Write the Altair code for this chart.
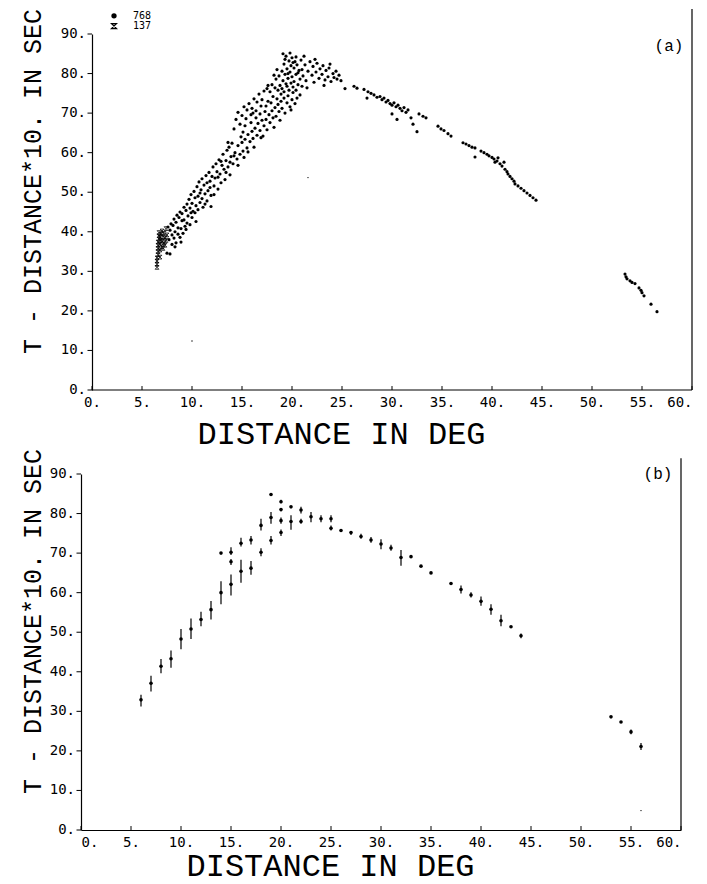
import altair as alt
import pandas as pd

# ---------------- Panel (a): individual readings ----------------
# set "768" (filled dots)
A768_DIST = [7.5, 7.6, 7.7, 7.8, 7.8, 7.9, 8.0, 8.0, 8.1, 8.2, 8.2, 8.3, 8.4, 8.4, 8.5, 8.6, 8.6, 8.7, 8.8, 8.8,
             8.9, 9.0, 9.0, 9.1, 9.2, 9.2, 9.3, 9.4, 9.5, 9.5,
             9.6, 9.7, 9.8, 9.8, 9.9, 10.0, 10.0, 10.1, 10.2, 10.3, 10.3, 10.4, 10.5, 10.6, 10.6, 10.7, 10.8, 10.9,
             11.0, 11.0, 11.1, 11.2, 11.3, 11.4, 11.5, 11.5,
             11.6, 11.7, 11.8, 11.9, 12.0, 12.1, 12.2, 12.3, 12.4, 12.5, 12.6, 12.7, 12.8, 12.9, 13.0, 13.1, 13.2,
             13.3, 13.4, 13.5, 13.6, 13.7, 13.8, 13.9, 14.0,
             14.1, 14.3, 14.5, 14.6, 14.8, 15.0, 15.1, 15.3, 15.5, 15.6, 15.8, 16.0, 16.1, 16.3, 16.5, 16.6, 16.8,
             17.0, 16.9, 15.2,
             14.2, 14.4, 14.6, 14.8, 15.0, 15.2, 15.4, 15.5, 15.7, 15.9, 16.0, 16.2, 16.4, 16.5, 16.7, 16.9, 17.0,
             17.2, 17.3, 17.5,
             17.2, 17.4, 17.5, 17.7, 17.8, 18.0, 18.1, 18.3, 18.4, 18.6, 18.7, 18.9, 19.0, 19.2, 19.3, 19.5, 19.6,
             19.8, 20.0, 20.1, 20.3,
             17.6, 17.8, 18.0, 18.1, 18.3, 18.4, 18.5, 18.6, 18.7, 18.8, 18.9, 19.0, 19.0, 19.1, 19.2, 19.2, 19.3,
             19.4, 19.4, 19.5, 19.5, 19.6, 19.7, 19.7, 19.8, 19.9, 19.9, 20.0, 20.0, 20.1, 20.2, 20.2, 20.3, 20.4,
             20.4, 20.5, 20.6, 20.7, 20.8, 20.9, 21.0, 21.0, 21.1,
             21.3, 21.4, 21.6, 21.8, 22.0, 22.1, 22.2, 22.4, 22.5, 22.7, 22.8, 23.0, 23.1, 23.3, 23.4, 23.6, 23.7,
             23.9, 24.1, 24.4, 24.5, 24.7, 24.9,
             25.3, 26.2, 26.5, 27.2, 27.5, 27.6, 27.9, 28.2, 28.5, 28.8, 29.0, 29.2, 29.4, 29.6, 29.8, 30.0, 30.0,
             30.2, 30.4, 30.5, 30.6, 30.8, 31.0, 31.2, 31.4, 31.6, 31.9, 32.1, 32.5, 32.7, 33.1, 33.4,
             34.6, 34.9, 35.2, 35.6, 35.9, 37.1, 37.4, 37.7, 38.0, 38.3, 38.3, 38.9, 39.2, 39.5, 39.7, 40.0, 40.2,
             40.3, 40.5, 40.6, 40.8, 41.0, 41.2, 41.3, 41.5, 41.6, 41.8, 42.0, 42.2, 42.3, 42.6, 42.9, 43.2, 43.5,
             43.8, 44.1, 44.4,
             53.3, 53.4, 53.5, 53.8, 54.0, 54.3, 54.7, 54.9, 55.0, 55.2, 55.9, 56.5,
             8.3, 8.9, 9.4, 9.9, 10.4, 10.8, 11.3, 11.8, 12.2, 12.6, 12.9, 13.4, 13.8, 14.2, 14.6, 15.1, 15.6, 15.9,
             16.2, 16.4, 16.8, 17.1, 17.4, 17.6, 17.9, 18.2, 18.2, 18.5, 18.8, 19.1, 19.3, 19.6, 19.8, 20.1, 20.4,
             20.6, 20.8, 21.2, 21.5, 22.3, 23.2, 23.8, 24.2, 20.5, 19.9, 16.1, 15.3, 14.9, 13.6, 11.9]
A768_TIME = [34.6, 41.2, 38.0, 34.4, 40.4, 42.0, 36.8, 39.2, 41.6, 38.4, 43.2, 40.0, 37.2, 42.4, 44.2, 39.4, 41.0,
             43.6, 38.6, 45.0, 40.8, 42.8, 44.6, 39.6, 46.2, 43.0, 41.4, 45.4, 47.0, 42.2,
             44.0, 48.2, 41.8, 46.0, 49.4, 43.6, 47.2, 45.2, 50.2, 44.8, 48.6, 46.6, 51.4, 49.0, 45.6, 52.6, 47.4,
             50.6, 48.4, 53.4, 46.2, 51.8, 49.6, 54.2, 52.4, 47.8,
             50.4, 55.0, 52.8, 49.2, 54.0, 56.4, 51.6, 53.6, 57.2, 55.2, 50.8, 58.2, 54.6, 52.4, 56.8, 59.6, 55.8,
             53.2, 58.0, 60.6, 56.4, 61.4, 57.6, 59.0, 62.4,
             57.2, 60.0, 58.4, 61.8, 59.6, 62.6, 60.4, 63.4, 61.2, 64.6, 62.8, 65.4, 63.6, 66.2, 64.4, 67.4, 65.6,
             68.2, 63.8, 58.8,
             66.0, 68.4, 70.2, 67.2, 69.4, 71.6, 68.6, 70.8, 72.4, 69.6, 71.2, 73.6, 70.6, 72.8, 74.8, 71.8, 73.4,
             75.6, 70.4, 76.2,
             66.8, 68.4, 65.8, 69.6, 67.6, 70.6, 68.8, 71.4, 69.2, 72.2, 70.4, 73.0, 71.2, 73.8, 70.0, 72.6, 74.4,
             71.6, 73.4, 75.2, 72.4,
             73.0, 75.4, 77.2, 74.2, 76.4, 78.6, 73.6, 75.8, 79.4, 77.0, 74.8, 80.6, 76.2, 78.2, 82.4, 75.4, 79.8,
             77.4, 84.4, 81.2, 76.8, 78.8, 83.2, 75.8, 80.4, 77.6, 82.0, 79.2, 84.0, 76.6, 81.4, 78.0, 83.0, 79.8,
             75.8, 82.2, 77.2, 80.8, 78.6, 83.4, 76.8, 81.0, 79.4,
             82.2, 78.2, 80.6, 83.0, 79.6, 81.8, 77.8, 80.4, 82.6, 78.8, 81.2, 79.8, 82.0, 78.4, 80.8, 79.2, 81.4,
             78.0, 80.0, 80.6, 78.6, 79.6, 78.2,
             76.2, 76.8, 76.3, 76.0, 73.8, 75.4, 75.0, 74.6, 74.0, 74.2, 73.4, 73.8, 72.8, 73.2, 72.4, 72.0, 69.8,
             72.6, 71.6, 68.4, 72.0, 71.2, 70.6, 71.4, 70.2, 70.8, 68.8, 67.2, 65.3, 69.8, 69.2, 68.8,
             66.7, 66.0, 65.6, 64.8, 64.2, 62.5, 62.2, 61.8, 61.4, 58.9, 61.2, 60.4, 60.0, 59.6, 59.2, 58.8, 58.4,
             57.6, 57.9, 58.7, 57.2, 56.6, 57.6, 55.8, 55.2, 54.6, 54.0, 53.4, 52.8, 52.1, 51.6, 51.0, 50.4, 49.8,
             49.2, 48.6, 48.0,
             29.3, 28.6, 28.1, 27.6, 27.2, 26.9, 25.8, 25.2, 24.6, 23.8, 21.7, 19.8,
             36.2, 37.4, 40.6, 44.8, 42.6, 49.8, 47.0, 51.2, 49.4, 53.8, 57.8, 55.0, 54.4, 59.2, 56.8, 65.2, 60.2,
             67.6, 61.4, 68.8, 69.8, 64.2, 71.8, 77.0, 72.6, 66.4, 79.6, 81.0, 68.2, 85.0, 83.6, 80.0, 85.2, 82.8,
             84.2, 80.2, 74.6, 84.4, 76.4, 83.6, 77.0, 82.4, 79.0, 73.8, 70.8, 70.0, 66.8, 64.0, 62.6, 46.4]

# set "137" (hourglass symbols, the dense group near 6.5-7.5 deg)
A137_DIST = [6.5, 6.5, 6.5, 6.5, 6.6, 6.6, 6.6, 6.6, 6.6, 6.7, 6.7, 6.7, 6.8, 6.8, 6.8, 6.8, 6.9, 6.9, 7.0, 7.0,
             7.0, 7.1, 7.1, 7.2, 7.2, 7.3, 7.3, 7.4, 7.4, 7.5]
A137_TIME = [31.0, 31.8, 32.6, 33.4, 34.2, 35.0, 35.8, 36.6, 37.4, 38.2, 39.0, 39.8, 33.6, 35.4, 36.9, 38.6, 37.8,
             39.4, 36.2, 37.6, 40.2, 35.8, 38.8, 37.2, 39.6, 36.6, 38.4, 40.8, 37.8, 39.2]

SPECK_A_DIST = [21.6, 10.0]
SPECK_A_TIME = [53.7, 12.4]

LEGEND_COUNTS = ["768", "137"]

# ---------------- Panel (b): binned values with spread ----------------
B_DIST = [6, 7, 8, 9, 10, 11, 12, 13, 14, 14, 15, 15, 15, 16, 16, 17, 17, 18, 18, 19, 19, 19,
          20, 20, 20, 20, 21, 21, 22, 22, 23, 24, 25, 25, 26, 27, 28, 29, 30, 31, 32, 33, 34, 35,
          37, 38, 39, 40, 41, 42, 43, 44, 53, 54, 55, 56]
B_MID = [32.9, 37.1, 41.4, 43.3, 48.3, 50.8, 53.2, 55.7, 60.0, 70.0, 62.1, 70.2, 67.8, 65.4, 72.5, 66.2, 73.3,
         70.2, 77.0, 73.2, 79.0, 84.8, 75.2, 78.2, 81.0, 83.0, 81.7, 78.0, 80.9, 78.0, 79.2, 78.7, 78.7, 76.3,
         75.7, 75.2, 74.2, 73.3, 72.3, 71.3, 68.9, 69.1, 66.7, 65.0, 62.3, 60.8, 59.4, 57.8, 55.8, 52.9, 51.4,
         49.1, 28.6, 27.3, 24.8, 21.1]
B_LO = [31.2, 35.0, 39.6, 41.0, 45.7, 48.3, 51.5, 53.2, 57.1, 70.0, 59.3, 69.5, 67.0, 62.5, 71.7, 64.5, 72.2,
        69.2, 75.7, 72.2, 77.4, 84.8, 74.3, 77.4, 80.6, 82.6, 81.7, 75.9, 80.0, 77.4, 77.8, 77.8, 77.8, 75.7,
        75.4, 74.6, 73.6, 72.6, 71.0, 70.6, 66.8, 69.1, 66.7, 65.0, 62.3, 59.8, 58.8, 56.7, 54.4, 51.5, 51.4,
        48.5, 28.6, 27.3, 24.2, 20.2]
B_HI = [34.2, 39.0, 43.2, 45.4, 50.8, 53.5, 55.2, 57.9, 62.9, 70.0, 64.6, 71.5, 68.5, 68.3, 73.9, 68.0, 74.3,
        71.2, 78.7, 74.3, 80.4, 84.8, 76.0, 79.0, 81.4, 83.5, 81.7, 79.6, 81.7, 78.7, 80.4, 79.6, 79.6, 77.0,
        76.0, 75.6, 74.9, 74.1, 73.5, 72.1, 70.8, 69.1, 66.7, 65.0, 62.3, 61.8, 60.1, 59.0, 57.1, 54.4, 51.4,
        49.7, 28.6, 27.3, 25.4, 22.0]

SPECK_B_DIST = [56.0]
SPECK_B_TIME = [4.9]

X_TICKS = list(range(0, 61, 5))
Y_TICKS = list(range(0, 91, 10))
Y_LABELS = [f"{v}." for v in Y_TICKS]
PANEL_TAGS = ["(a)", "(b)"]

# ---------------- styling ----------------
FONT = "DejaVu Sans Mono"
TFONT = "Liberation Mono"
H = 356
WA, WB = 611, 600
XT_TITLE = "DISTANCE IN DEG"
YT_TITLE = "T - DISTANCE*10. IN SEC"
HOURGLASS = "M -1 -1 L 1 -1 L -1 1 L 1 1 Z"

xs_a = alt.Scale(domain=[-1.1, 60], nice=False, zero=False)
xs_b = alt.Scale(domain=[0, 60], nice=False, zero=False)
ys = alt.Scale(domain=[0, 90], nice=False, zero=False)


def x_axis(title_x, title_y, domain):
    return alt.Axis(values=X_TICKS, labelExpr="datum.value + '.'", title=XT_TITLE, ticks=False,
                    domain=domain, labelPadding=5, titleX=title_x, titleY=title_y, titleAlign="center",
                    titleBaseline="alphabetic", titleFontSize=32, grid=False, labelOverlap=False)


def y_axis(offset, title_x):
    return alt.Axis(values=Y_TICKS, labels=False, ticks=False, title=YT_TITLE,
                    offset=offset, titleX=title_x, titleY=147, titleAngle=270,
                    titleAlign="center", titleBaseline="middle", titleFontSize=25, grid=False)


df768 = pd.DataFrame({"d": A768_DIST, "t": A768_TIME})
df137 = pd.DataFrame({"d": A137_DIST, "t": A137_TIME})
dfsa = pd.DataFrame({"d": SPECK_A_DIST, "t": SPECK_A_TIME})
dft = pd.DataFrame({"d": X_TICKS})
dfy = pd.DataFrame({"t": Y_TICKS, "lab": Y_LABELS})
dfb = pd.DataFrame({"d": B_DIST, "t": B_MID, "lo": B_LO, "hi": B_HI})
dfsb = pd.DataFrame({"d": SPECK_B_DIST, "t": SPECK_B_TIME})
one = pd.DataFrame({"k": [0]})


def y_ticks_layers(xs):
    ticks = alt.Chart(dfy).mark_rule(color="black", strokeWidth=1).encode(
        x=alt.datum(-0.45, scale=xs), x2=alt.datum(0), y=alt.Y("t:Q", scale=ys))
    labels = alt.Chart(dfy).mark_text(font=FONT, fontSize=14, color="black", align="right",
                                      baseline="middle", dx=-6).encode(
        x=alt.datum(0, scale=xs), y=alt.Y("t:Q", scale=ys), text="lab:N")
    return ticks, labels


# ---- panel a layers
a_pts = alt.Chart(df768).mark_point(filled=True, shape="circle", size=10, color="black", opacity=1).encode(
    x=alt.X("d:Q", scale=xs_a, axis=x_axis(260, 53, False)),
    y=alt.Y("t:Q", scale=ys, axis=y_axis(-11, -60)),
)
a_137 = alt.Chart(df137).mark_point(shape=HOURGLASS, size=14, color="black", filled=False,
                                   strokeWidth=0.8, opacity=1).encode(
    x=alt.X("d:Q", scale=xs_a), y=alt.Y("t:Q", scale=ys))
a_speck = alt.Chart(dfsa).mark_point(filled=True, shape="circle", size=2, color="black", opacity=1).encode(
    x=alt.X("d:Q", scale=xs_a), y=alt.Y("t:Q", scale=ys))
a_xline = alt.Chart(one).mark_rule(color="black", strokeWidth=1.2).encode(
    x=alt.datum(0, scale=xs_a), x2=alt.datum(60), y=alt.datum(0, scale=ys))
a_right = alt.Chart(one).mark_rule(color="black", strokeWidth=1.2).encode(
    x=alt.datum(60, scale=xs_a), y=alt.datum(0, scale=ys), y2=alt.datum(96.3))
a_ticks = alt.Chart(dft).mark_rule(color="black", strokeWidth=1).encode(
    x=alt.X("d:Q", scale=xs_a), y=alt.datum(0, scale=ys), y2=alt.datum(1.0))
a_yt, a_yl = y_ticks_layers(xs_a)
a_tag = alt.Chart(one).mark_text(font=TFONT, fontSize=16, color="black").encode(
    x=alt.datum(57.7, scale=xs_a), y=alt.datum(87, scale=ys), text=alt.value(PANEL_TAGS[0]))
a_leg1 = alt.Chart(one).mark_point(filled=True, shape="circle", size=28, color="black", opacity=1).encode(
    x=alt.datum(2.2, scale=xs_a), y=alt.datum(94.6, scale=ys))
a_leg2 = alt.Chart(one).mark_point(shape=HOURGLASS, size=26, color="black", filled=False, strokeWidth=1.2,
                                   opacity=1).encode(x=alt.datum(2.2, scale=xs_a), y=alt.datum(92.0, scale=ys))
a_legt1 = alt.Chart(one).mark_text(font=FONT, fontSize=10, color="black", align="left").encode(
    x=alt.datum(4.1, scale=xs_a), y=alt.datum(94.6, scale=ys), text=alt.value(LEGEND_COUNTS[0]))
a_legt2 = alt.Chart(one).mark_text(font=FONT, fontSize=10, color="black", align="left").encode(
    x=alt.datum(4.1, scale=xs_a), y=alt.datum(92.0, scale=ys), text=alt.value(LEGEND_COUNTS[1]))
# white pixel pinning the page's top-left corner (layout anchor)
a_anchor = alt.Chart(one).mark_rule(color="white", strokeWidth=1).encode(
    x=alt.value(-80), x2=alt.value(-79), y=alt.value(-33))

panel_a = alt.layer(a_pts, a_137, a_speck, a_xline, a_right, a_ticks, a_yt, a_yl, a_tag, a_leg1, a_leg2,
                    a_legt1, a_legt2, a_anchor).properties(width=WA, height=H)

# ---- panel b layers
b_pts = alt.Chart(dfb).mark_point(filled=True, shape="circle", size=13, color="black", opacity=1).encode(
    x=alt.X("d:Q", scale=xs_b, axis=x_axis(249, 45, True)),
    y=alt.Y("t:Q", scale=ys, axis=y_axis(0, -49)),
)
b_bars = alt.Chart(dfb).mark_rule(color="black", strokeWidth=1.2).encode(
    x=alt.X("d:Q", scale=xs_b), y=alt.Y("lo:Q", scale=ys), y2="hi:Q")
b_speck = alt.Chart(dfsb).mark_point(filled=True, shape="circle", size=2, color="black", opacity=1).encode(
    x=alt.X("d:Q", scale=xs_b), y=alt.Y("t:Q", scale=ys))
b_right = alt.Chart(one).mark_rule(color="black", strokeWidth=1.2).encode(
    x=alt.datum(60, scale=xs_b), y=alt.datum(0, scale=ys), y2=alt.datum(94))
b_ticks = alt.Chart(dft).mark_rule(color="black", strokeWidth=1).encode(
    x=alt.X("d:Q", scale=xs_b), y=alt.datum(0, scale=ys), y2=alt.datum(1.0))
b_yt, b_yl = y_ticks_layers(xs_b)
b_tag = alt.Chart(one).mark_text(font=TFONT, fontSize=16, color="black").encode(
    x=alt.datum(57.7, scale=xs_b), y=alt.datum(90, scale=ys), text=alt.value(PANEL_TAGS[1]))

panel_b = alt.layer(b_bars, b_pts, b_speck, b_right, b_ticks, b_yt, b_yl, b_tag).properties(width=WB, height=H)

chart = alt.vconcat(panel_a, panel_b, spacing=84, bounds="flush").properties(
    padding={"left": 0, "top": 0, "right": 5, "bottom": 12},
    background="white",
).configure_view(stroke=None).configure_axis(
    domainColor="black", tickColor="black", labelColor="black", titleColor="black",
    labelFont=FONT, titleFont=TFONT, labelFontSize=14, titleFontWeight="normal",
    domainWidth=1.2, tickWidth=1,
)

chart.save("out.html", embed_options={"renderer": "svg", "actions": False})
